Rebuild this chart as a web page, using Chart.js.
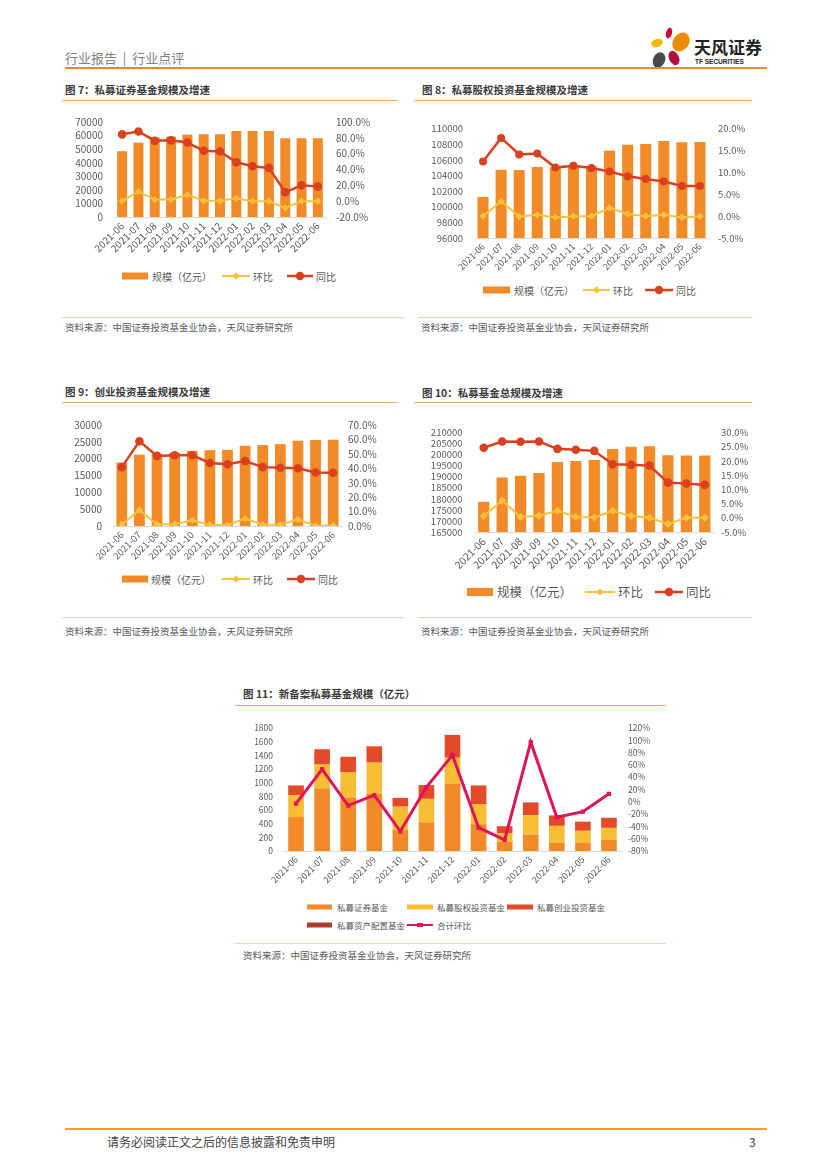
<!DOCTYPE html>
<html>
<head>
<meta charset="utf-8">
<script src="https://cdn.jsdelivr.net/npm/chart.js@4/dist/chart.umd.min.js"></script>
<style>
  body { margin: 0; background: #fff; font-family: "Noto Sans CJK SC", sans-serif; }
  #page { position: relative; width: 827px; height: 1169px; overflow: hidden; background: #fff; }
  .abs { position: absolute; white-space: nowrap; }
  .hdr { font-size: 13px; color: #808080; }
  .title { font-size: 10.5px; font-weight: bold; color: #3a3a3a; line-height: 14px; }
  .tline { position: absolute; height: 1px; background: #F0A868; }
  .sline { position: absolute; height: 1px; background: #F3CFAE; }
  .src { font-size: 9.5px; color: #595959; line-height: 14px; }
  .box { position: absolute; }
</style>
</head>
<body>
<div id="page">
  <!-- header -->
  <div class="abs hdr" style="left:65px;top:48px;">行业报告 &nbsp;|&nbsp; 行业点评</div>
  <svg class="abs" style="left:645px;top:22px;" width="50" height="50" viewBox="645 22 50 50">
    <ellipse cx="669" cy="33" rx="3" ry="5.5" fill="#C8102E" transform="rotate(15 669 33)"/>
    <ellipse cx="681" cy="42" rx="8" ry="10" fill="#F08A00" transform="rotate(35 681 42)"/>
    <ellipse cx="657" cy="43" rx="6" ry="4" fill="#F6B800" transform="rotate(-20 657 43)"/>
    <ellipse cx="659" cy="60" rx="6" ry="8" fill="#4A4A4A" transform="rotate(25 659 60)"/>
    <ellipse cx="674" cy="58" rx="5" ry="7.5" fill="#B0103A" transform="rotate(-25 674 58)"/>
  </svg>
  <div class="abs" style="left:694px;top:36px;font-size:17px;font-weight:bold;color:#222;line-height:22px;">天风证券</div>
  <div class="abs" style="left:695px;top:58px;font-size:6.5px;font-weight:bold;color:#222;font-family:'Liberation Sans',sans-serif;">TF SECURITIES</div>
  <div class="abs" style="left:65px;top:67px;width:702px;height:2px;background:#E8872E;"></div>

  <!-- titles -->
  <div class="abs title" style="left:65px;top:83px;">图 7：私募证券基金规模及增速</div>
  <div class="tline" style="left:62px;top:100px;width:336px;"></div>
  <div class="abs title" style="left:422px;top:83px;">图 8：私募股权投资基金规模及增速</div>
  <div class="tline" style="left:414px;top:100px;width:338px;"></div>
  <div class="abs title" style="left:65px;top:385px;">图 9：创业投资基金规模及增速</div>
  <div class="tline" style="left:62px;top:402px;width:336px;"></div>
  <div class="abs title" style="left:422px;top:386px;">图 10：私募基金总规模及增速</div>
  <div class="tline" style="left:414px;top:402px;width:338px;"></div>
  <div class="abs title" style="left:243px;top:687px;">图 11：新备案私募基金规模（亿元）</div>
  <div class="tline" style="left:235px;top:705px;width:431px;"></div>

  <!-- chart boxes -->
  <div class="box" style="left:60px;top:105px;width:326px;height:162px;"><canvas id="c7"></canvas></div>
  <div class="box" style="left:420px;top:112px;width:332px;height:171px;"><canvas id="c8"></canvas></div>
  <div class="box" style="left:60px;top:408px;width:332px;height:163px;"><canvas id="c9"></canvas></div>
  <div class="box" style="left:420px;top:415px;width:334px;height:162px;"><canvas id="c10"></canvas></div>
  <div class="box" style="left:238px;top:713px;width:429px;height:178px;"><canvas id="c11"></canvas></div>

  <!-- sources -->
  <div class="sline" style="left:62px;top:317px;width:342px;"></div>
  <div class="abs src" style="left:65px;top:320px;">资料来源：中国证券投资基金业协会，天风证券研究所</div>
  <div class="sline" style="left:418px;top:317px;width:334px;"></div>
  <div class="abs src" style="left:421px;top:320px;">资料来源：中国证券投资基金业协会，天风证券研究所</div>
  <div class="sline" style="left:62px;top:617px;width:342px;"></div>
  <div class="abs src" style="left:65px;top:624px;">资料来源：中国证券投资基金业协会，天风证券研究所</div>
  <div class="sline" style="left:418px;top:617px;width:334px;"></div>
  <div class="abs src" style="left:421px;top:624px;">资料来源：中国证券投资基金业协会，天风证券研究所</div>
  <div class="sline" style="left:235px;top:943px;width:431px;"></div>
  <div class="abs src" style="left:243px;top:948px;">资料来源：中国证券投资基金业协会，天风证券研究所</div>

  <!-- footer -->
  <div class="abs" style="left:65px;top:1128px;width:702px;height:2px;background:#E8A040;"></div>
  <div class="abs" style="left:107px;top:1133px;font-size:12px;color:#444;">请务必阅读正文之后的信息披露和免责申明</div>
  <div class="abs" style="left:749px;top:1133px;font-size:12px;color:#444;">3</div>
</div>

<script>
const months = ['2021-06', '2021-07', '2021-08', '2021-09', '2021-10', '2021-11', '2021-12',
  '2022-01', '2022-02', '2022-03', '2022-04', '2022-05', '2022-06'];

// 图7 私募证券基金（亿元 / %）
const secScale = [48500, 54700, 58600, 59200, 60700, 61000, 61000, 63400, 63400, 63400, 58000, 58000, 58000];
const secMom = [0.4, 12.0, 2.0, 2.0, 8.0, 0.4, 0.4, 3.6, 0.0, 0.0, -8.4, 0.0, 0.0];
const secYoy = [84.4, 88.0, 76.4, 76.8, 74.0, 63.6, 62.8, 49.2, 44.0, 42.0, 11.2, 20.0, 18.4];

// 图8 私募股权投资基金
const peScale = [101250, 104740, 104700, 105110, 105050, 105200, 105200, 107200, 107950, 108030, 108440, 108270, 108310];
const peMom = [0.0, 3.4, -0.1, 0.3, -0.3, 0.0, 0.0, 1.9, 0.5, 0.0, 0.3, -0.3, 0.0];
const peYoy = [12.5, 17.9, 14.1, 14.3, 11.1, 11.5, 11.0, 10.2, 9.1, 8.5, 7.9, 6.9, 6.9];

// 图9 创业投资基金
const vcScale = [18830, 21190, 21420, 21700, 22330, 22520, 22610, 23840, 24030, 24310, 25350, 25540, 25640];
const vcMom = [1.1, 11.0, 1.1, 1.3, 4.0, 0.7, 0.7, 5.1, 0.9, 0.9, 4.6, 0.2, 0.4];
const vcYoy = [40.8, 58.7, 48.6, 49.0, 49.0, 43.7, 42.8, 45.0, 40.8, 40.4, 40.0, 37.1, 36.9];

// 图10 私募基金总规模
const totScale = [178660, 189730, 190440, 191730, 196770, 197200, 197630, 202660, 203670, 203810, 199780, 199640, 199640];
const totMom = [0.6, 6.1, 0.3, 0.7, 2.5, 0.3, 0.1, 2.5, 0.6, 0.0, -2.2, 0.0, 0.0];
const totYoy = [24.7, 26.9, 26.8, 26.9, 24.3, 24.0, 23.6, 18.9, 18.7, 18.4, 12.4, 12.1, 11.6];

// 图11 新备案私募基金规模
const newSec = [497, 917, 783, 836, 310, 420, 984, 392, 134, 239, 124, 124, 162];
const newPe = [320, 348, 368, 458, 339, 344, 382, 296, 124, 286, 244, 172, 177];
const newVc = [143, 225, 229, 239, 129, 201, 334, 272, 105, 187, 153, 134, 148];
const newAlloc = [0, 0, 0, 0, 0, 0, 0, 0, 0, 0, 0, 0, 0];
const newMom = [-3, 53, -6, 11, -48, 24, 76, -42, -62, 97, -25, -16, 13];

const ORANGE = '#F28A28';
const YELLOW = '#F9C23C';
const RED = '#D8401F';
const FONT = '"Noto Sans CJK SC", sans-serif';
const TICK = '#595959';

Chart.defaults.font.family = FONT;
Chart.defaults.animation = false;

function pct1(v) { return v.toFixed(1) + '%'; }

function xAxis(fs, h, stacked) {
  return {
    stacked: !!stacked,
    grid: { display: false, drawTicks: false },
    border: { color: '#D9D9D9' },
    ticks: { autoSkip: false, minRotation: 45, maxRotation: 45, padding: 3, color: TICK, font: { size: fs } },
    afterFit: s => { s.height = h; }
  };
}

function yAxis(pos, min, max, step, fs, pad, w, fmt, stacked) {
  return {
    position: pos, min: min, max: max, stacked: !!stacked,
    grid: { display: false, drawTicks: false },
    border: { display: false },
    ticks: { stepSize: step, autoSkip: false, padding: pad, color: TICK, font: { size: fs }, callback: fmt || (v => v) },
    afterFit: s => { s.width = w; }
  };
}

function combo(id, scale, mom, yoy, c) {
  new Chart(document.getElementById(id), {
    data: {
      labels: months,
      datasets: [
        { type: 'line', label: '同比', data: yoy, yAxisID: 'y1', order: 1,
          borderColor: RED, backgroundColor: RED, borderWidth: 2.5,
          pointStyle: 'circle', pointRadius: c.dot, pointBorderWidth: 0 },
        { type: 'line', label: '环比', data: mom, yAxisID: 'y1', order: 2,
          borderColor: YELLOW, backgroundColor: YELLOW, borderWidth: 2,
          pointStyle: 'rectRot', pointRadius: c.dia, pointBorderWidth: 0 },
        { type: 'bar', label: '规模（亿元）', data: scale, yAxisID: 'y', order: 3,
          backgroundColor: ORANGE, barPercentage: 0.61, categoryPercentage: 1 }
      ]
    },
    options: {
      responsive: true, maintainAspectRatio: false,
      layout: { padding: { top: 12, left: 0, right: 0, bottom: 0 } },
      plugins: { legend: { display: false }, tooltip: { enabled: false } },
      scales: {
        x: xAxis(c.xfs, c.xh),
        y: yAxis('left', c.min, c.max, c.step, c.yfs, c.lpad, c.lw),
        y1: yAxis('right', c.rmin, c.rmax, c.rstep, c.yfs, c.rpad, c.rw, pct1)
      }
    }
  });
}

combo('c7', secScale, secMom, secYoy, { min: 0, max: 70000, step: 10000, rmin: -20, rmax: 100, rstep: 20,
  yfs: 10, xfs: 10, lw: 54, rw: 60, lpad: 11, rpad: 10, xh: 50, dot: 4.3, dia: 3.6 });
combo('c8', peScale, peMom, peYoy, { min: 96000, max: 110000, step: 2000, rmin: -5, rmax: 20, rstep: 5,
  yfs: 9.5, xfs: 9, lw: 54, rw: 43, lpad: 11, rpad: 9, xh: 45, dot: 4, dia: 3.6 });
combo('c9', vcScale, vcMom, vcYoy, { min: 0, max: 30000, step: 5000, rmin: 0, rmax: 70, rstep: 10,
  yfs: 10, xfs: 9.5, lw: 53, rw: 50, lpad: 11, rpad: 6, xh: 45, dot: 4.3, dia: 3.6 });
combo('c10', totScale, totMom, totYoy, { min: 165000, max: 210000, step: 5000, rmin: -5, rmax: 30, rstep: 5,
  yfs: 9.5, xfs: 10.5, lw: 54.5, rw: 40, lpad: 12, rpad: 7, xh: 45, dot: 4.3, dia: 4 });

new Chart(document.getElementById('c11'), {
  data: {
    labels: months,
    datasets: [
      { type: 'line', label: '合计环比', data: newMom, yAxisID: 'y1', order: 1,
        borderColor: '#E0125A', backgroundColor: '#E0125A', borderWidth: 3,
        pointStyle: 'rect', pointRadius: 3, pointBorderWidth: 0 },
      { type: 'bar', label: '私募证券基金', data: newSec, yAxisID: 'y', stack: 's', order: 2,
        backgroundColor: ORANGE, barPercentage: 0.6, categoryPercentage: 1 },
      { type: 'bar', label: '私募股权投资基金', data: newPe, yAxisID: 'y', stack: 's', order: 3,
        backgroundColor: '#F9BD33', barPercentage: 0.6, categoryPercentage: 1 },
      { type: 'bar', label: '私募创业投资基金', data: newVc, yAxisID: 'y', stack: 's', order: 4,
        backgroundColor: '#E24A2A', barPercentage: 0.6, categoryPercentage: 1 },
      { type: 'bar', label: '私募资产配置基金', data: newAlloc, yAxisID: 'y', stack: 's', order: 5,
        backgroundColor: '#B03A2E', barPercentage: 0.6, categoryPercentage: 1 }
    ]
  },
  options: {
    responsive: true, maintainAspectRatio: false,
    layout: { padding: { top: 12, left: 0, right: 0, bottom: 0 } },
    plugins: { legend: { display: false }, tooltip: { enabled: false } },
    scales: {
      x: xAxis(9, 40, true),
      y: yAxis('left', 0, 1800, 200, 8.5, 10, 45, null, true),
      y1: yAxis('right', -80, 120, 20, 8.5, 6, 45, v => v + '%')
    }
  }
});

// legends
function legend(y, fs, items) {
  const page = document.getElementById('page');
  items.forEach(([x0, x1, tx, kind, color, text]) => {
    const w = x1 - x0;
    let inner = '';
    if (kind === 'box') {
      const bh = fs > 11 ? 8 : (fs < 9 ? 5 : 7);
      inner = `<rect x="0" y="${6 - bh / 2}" width="${w}" height="${bh}" fill="${color}"/>`;
    } else {
      inner = `<line x1="0" y1="6" x2="${w}" y2="6" stroke="${color}" stroke-width="${kind === 'dot' ? 2.5 : 2}"/>`;
      const m = w / 2;
      if (kind === 'dot') inner += `<circle cx="${m}" cy="6" r="4.2" fill="${color}"/>`;
      if (kind === 'dia') inner += `<polygon points="${m},2.2 ${m + 3.8},6 ${m},9.8 ${m - 3.8},6" fill="${color}"/>`;
      if (kind === 'sq') inner += `<rect x="${m - 3}" y="4" width="6" height="4" fill="${color}"/>`;
    }
    page.insertAdjacentHTML('beforeend',
      `<svg class="abs" style="left:${x0}px;top:${y - 6}px" width="${w}" height="12">${inner}</svg>` +
      `<div class="abs" style="left:${tx}px;top:${y - fs * 0.75}px;font-size:${fs}px;line-height:${fs * 1.5}px;color:${TICK}">${text}</div>`);
  });
}

legend(276, 10, [[122, 148, 152, 'box', ORANGE, '规模（亿元）'], [222, 250, 253, 'dia', YELLOW, '环比'], [287, 313, 316, 'dot', RED, '同比']]);
legend(290, 10, [[483, 510, 514, 'box', ORANGE, '规模（亿元）'], [583, 610, 613, 'dia', YELLOW, '环比'], [645, 673, 676, 'dot', RED, '同比']]);
legend(579, 10, [[122, 148, 151, 'box', ORANGE, '规模（亿元）'], [222, 250, 253, 'dia', YELLOW, '环比'], [287, 315, 318, 'dot', RED, '同比']]);
legend(592, 12.5, [[467, 493, 497, 'box', ORANGE, '规模（亿元）'], [585, 615, 618, 'dia', YELLOW, '环比'], [655, 683, 686, 'dot', RED, '同比']]);
legend(907, 8.5, [[307, 332, 337, 'box', ORANGE, '私募证券基金'], [407, 433, 437, 'box', '#F9BD33', '私募股权投资基金'], [507, 533, 537, 'box', '#E24A2A', '私募创业投资基金']]);
legend(925, 8.5, [[307, 332, 337, 'box', '#B03A2E', '私募资产配置基金'], [407, 433, 437, 'sq', '#E0125A', '合计环比']]);
</script>
</body>
</html>
